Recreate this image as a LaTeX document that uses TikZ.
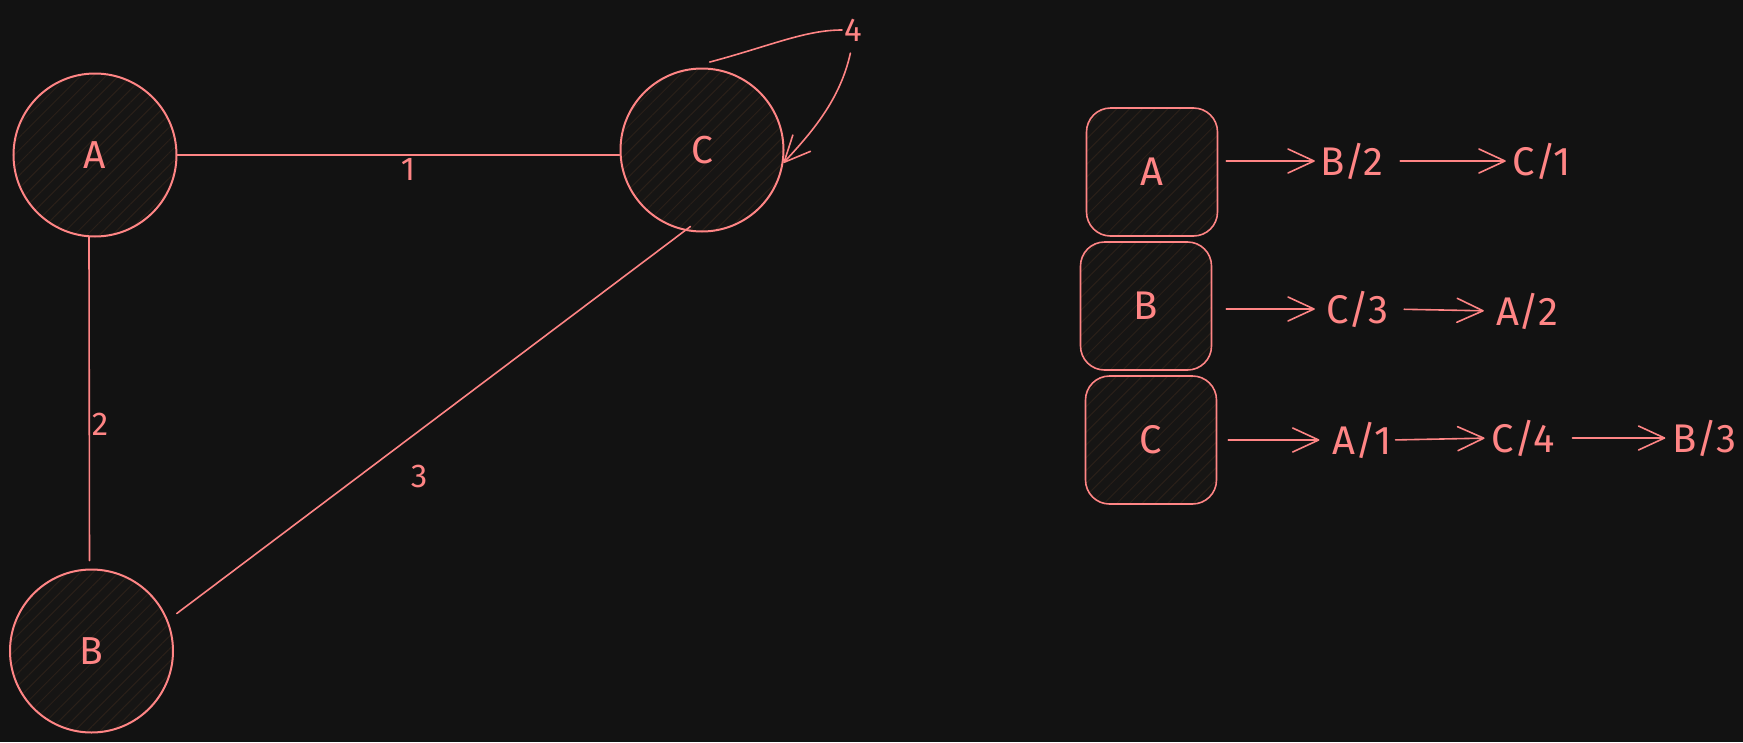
\documentclass[tikz,border=0pt]{standalone}
\usepackage{fontspec}
\setmainfont{Fira Sans}
\usetikzlibrary{arrows.meta,patterns.meta,calc}
\definecolor{bg}{HTML}{121212}
\definecolor{ink}{HTML}{FF8585}
\definecolor{hatch}{HTML}{2A2019}
\definecolor{nodefill}{HTML}{161514}
\begin{document}
\begin{tikzpicture}[x=1pt,y=-1pt,
  vert/.style={circle, draw=ink, line width=2pt, minimum size=163pt, inner sep=0pt,
    preaction={fill=nodefill}, pattern={Lines[angle=45,distance=9pt,line width=1pt]},
    pattern color=hatch, text=ink, font=\fontsize{39}{39}\selectfont},
  box/.style={rectangle, rounded corners=24pt, draw=ink, line width=1.6pt, inner sep=0pt,
    minimum width=131pt, minimum height=128pt,
    preaction={fill=nodefill}, pattern={Lines[angle=45,distance=9pt,line width=1pt]},
    pattern color=hatch, text=ink, font=\fontsize{40}{40}\selectfont},
  edge/.style={draw=ink, line width=1.6pt, line cap=round},
  elabel/.style={text=ink, inner sep=0pt, font=\fontsize{33}{33}\selectfont},
  rtext/.style={text=ink, inner sep=0pt, font=\fontsize{40}{40}\selectfont},
  arr/.style={draw=ink, line width=1.6pt, line cap=round, line join=round,
    -{Straight Barb[length=26pt,width=24pt,round]}}]
\fill[bg] (0,0) rectangle (1743,742);
\useasboundingbox (0,0) rectangle (1743,742);

% graph
\node[vert] (A) at (95,155) {A};
\node[vert] (B) at (91.5,651) {B};
\node[vert] (C) at (702,150) {C};

\draw[edge] (A.east) -- (A.east -| C.west);
\draw[edge, shorten >=8pt] ([xshift=-6pt]A.south) -- ([xshift=-2pt]B.north);
\draw[edge, shorten <=11pt, shorten >=-7pt] (B.22) -- (C.-102);

\node[elabel] (l1) at (408,169) {1};
\node[elabel] (l2) at (100,424) {2};
\node[elabel] (l3) at (419,476) {3};
\node[elabel] (l4) at (853,30) {4};

\draw[edge, shorten >=2pt] ($(C.center)!1.07!(C.85)$) .. controls (770,46) and (805,30) .. (l4.west);
\draw[arr, shorten <=12pt] (l4.south) .. controls (840,100) and (812,132) .. (C.-9);

% adjacency list
\node[box] (boxA) at (1152,172) {A};
\node[box] (boxB) at (1146,306) {B};
\node[box] (boxC) at (1151,440) {C};

\node[rtext, minimum width=70pt] (a1) at (1352,161) {B/2};
\node[rtext, minimum width=50pt] (a2) at (1542,161) {C/1};
\node[rtext, minimum width=64pt] (b1) at (1357,309) {C/3};
\node[rtext, minimum width=66pt] (b2) at (1527,311) {A/2};
\node[rtext, minimum width=50pt] (c1) at (1362,440) {A/1};
\node[rtext, minimum width=60pt] (c2) at (1523,438) {C/4};
\node[rtext, minimum width=67pt] (c3) at (1704,438) {B/3};

\draw[arr, shorten <=8pt, shorten >=2pt] (boxA.east |- a1.west) -- (a1.west);
\draw[arr, shorten <=13pt, shorten >=7pt] (a1.east) -- (a2.west);
\draw[arr, shorten <=14pt, shorten >=10pt] (boxB.east |- b1.west) -- (b1.west);
\draw[arr, shorten <=15pt, shorten >=10pt] (b1.east) -- (b2.west);
\draw[arr, shorten <=11pt, shorten >=13pt] (boxC.east |- c1.west) -- (c1.west);
\draw[arr, shorten <=4pt, shorten >=7pt] (c1.east) -- (c2.west);
\draw[arr, shorten <=18pt, shorten >=5pt] (c2.east) -- (c3.west);
\end{tikzpicture}
\end{document}
